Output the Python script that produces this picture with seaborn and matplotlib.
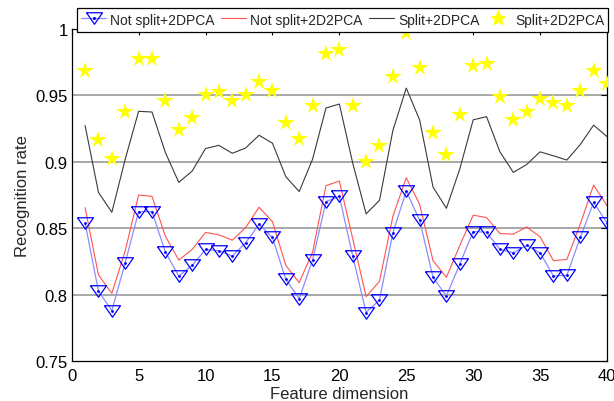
import numpy as np
import pandas as pd
import matplotlib
matplotlib.use("Agg")
import matplotlib.pyplot as plt
import seaborn as sns
from matplotlib.lines import Line2D

dims = list(range(1, 41))

not_split_2dpca = [0.854, 0.8025, 0.788, 0.824, 0.8625, 0.8625, 0.832, 0.814, 0.822, 0.834,
                   0.833, 0.829, 0.839, 0.853, 0.843, 0.8115, 0.797, 0.826, 0.870, 0.874,
                   0.829, 0.7865, 0.796, 0.8465, 0.878, 0.856, 0.813, 0.799, 0.823, 0.8475,
                   0.847, 0.834, 0.8315, 0.837, 0.8315, 0.814, 0.8145, 0.843, 0.8695, 0.854]

not_split_2d2pca = [0.8655, 0.8148, 0.801, 0.833, 0.875, 0.874, 0.844, 0.826, 0.834, 0.8468,
                    0.845, 0.841, 0.8505, 0.8658, 0.855, 0.822, 0.809, 0.832, 0.882, 0.8855,
                    0.842, 0.7985, 0.810, 0.859, 0.888, 0.868, 0.8255, 0.813, 0.837, 0.8598,
                    0.858, 0.846, 0.8455, 0.851, 0.8435, 0.8255, 0.8265, 0.853, 0.8825, 0.867]

split_2dpca = [0.9273, 0.877, 0.862, 0.902, 0.938, 0.9375, 0.907, 0.8845, 0.893, 0.910,
               0.9124, 0.9064, 0.9104, 0.920, 0.914, 0.8888, 0.8776, 0.902, 0.9405, 0.9435,
               0.899, 0.8608, 0.871, 0.9236, 0.9555, 0.9315, 0.881, 0.865, 0.8946, 0.9316,
               0.934, 0.9075, 0.892, 0.898, 0.9075, 0.9045, 0.9013, 0.913, 0.9276, 0.919]

split_2d2pca = [0.968, 0.9164, 0.902, 0.9373, 0.9774, 0.9774, 0.9455, 0.9239, 0.933, 0.950,
                0.9525, 0.946, 0.950, 0.960, 0.9535, 0.929, 0.917, 0.942, 0.981, 0.984,
                0.9418, 0.900, 0.912, 0.9635, 0.997, 0.971, 0.9216, 0.905, 0.935, 0.972,
                0.9735, 0.9488, 0.9313, 0.9375, 0.9476, 0.9445, 0.942, 0.953, 0.968, 0.9588]

labels = ["Not split+2DPCA", "Not split+2D2PCA", "Split+2DPCA", "Split+2D2PCA"]
xticks = [0, 5, 10, 15, 20, 25, 30, 35, 40]
yticks = [0.75, 0.8, 0.85, 0.9, 0.95, 1.0]
ytick_labels = ["0.75", "0.8", "0.85", "0.9", "0.95", "1"]

sns.set_style("white")
plt.rcParams["font.family"] = ["Liberation Sans", "DejaVu Sans"]
plt.rcParams["font.size"] = 12

fig = plt.figure(figsize=(6.14, 4.02), dpi=100)
ax = fig.add_axes([71.7 / 614, 1 - 362 / 402, (607 - 71.7) / 614, (362 - 30) / 402])

df = pd.DataFrame({"dim": dims, "a": not_split_2dpca, "b": not_split_2d2pca,
                   "c": split_2dpca, "d": split_2d2pca})

light_blue = "#8c8cff"
red = "#ff5252"
dark = "#3a3a3a"
tri = [(-1, 0.72), (1, 0.72), (0, -0.72), (-1, 0.72)]

# grid lines
for v in [0.8, 0.85, 0.9, 0.95]:
    ax.axhline(v, color="#a8a8a8", lw=1.4, zorder=0)

sns.lineplot(data=df, x="dim", y="c", ax=ax, color=dark, lw=0.8, zorder=2)
sns.lineplot(data=df, x="dim", y="b", ax=ax, color=red, lw=0.8, zorder=2)
sns.lineplot(data=df, x="dim", y="a", ax=ax, color=light_blue, lw=0.9, zorder=3,
             marker=".", markersize=2.5, markeredgecolor="#0000ff", markerfacecolor="#0000ff")
sns.lineplot(data=df, x="dim", y="a", ax=ax, linestyle="none", marker=tri,
             markersize=11.5, markerfacecolor="none", markeredgecolor="#0000ff",
             markeredgewidth=0.9, zorder=4)
sns.lineplot(data=df, x="dim", y="d", ax=ax, linestyle="none", marker="*",
             markersize=13, markerfacecolor="#ffff00", markeredgecolor="#ffff00",
             markeredgewidth=0, zorder=4)

ax.set_xlim(0, 40)
ax.set_ylim(0.75, 1.0)
ax.set_xticks(xticks)
ax.set_xticklabels([str(t) for t in xticks])
ax.set_yticks(yticks)
ax.set_yticklabels(ytick_labels)
ax.tick_params(direction="in", length=4, width=0.8, top=True, right=True,
               labelsize=12, colors="black")
ax.tick_params(axis="x", pad=5)
ax.tick_params(axis="y", pad=3)
ax.set_xlabel("Feature dimension", fontsize=12, labelpad=2)
ax.set_ylabel("Recognition rate", fontsize=12, labelpad=4)
for s in ax.spines.values():
    s.set_color("black")
    s.set_linewidth(0.9)

h1 = (Line2D([], [], color=light_blue, lw=0.9),
      Line2D([], [], linestyle="none", marker=tri, markersize=11.5, markerfacecolor="none",
             markeredgecolor="#0000ff", markeredgewidth=0.9),
      Line2D([], [], linestyle="none", marker=".", markersize=2.5, color="#0000ff"))
h2 = Line2D([], [], color=red, lw=0.8)
h3 = Line2D([], [], color=dark, lw=0.8)
h4 = Line2D([], [], linestyle="none", marker="*", markersize=11, markerfacecolor="#ffff00",
            markeredgecolor="#ffff00")
leg = fig.legend([h1, h2, h3, h4], labels, loc="upper left",
                 bbox_to_anchor=(77 / 614, 1 - 9 / 402), ncol=4, frameon=True,
                 fancybox=False, edgecolor="black", framealpha=1, fontsize=10,
                 handlelength=1.8, handletextpad=0.3, columnspacing=0.45,
                 handleheight=1.3, borderpad=0.3, borderaxespad=0)
leg.get_frame().set_linewidth(0.9)
leg.set_zorder(10)

fig.savefig("out.png", dpi=100)
